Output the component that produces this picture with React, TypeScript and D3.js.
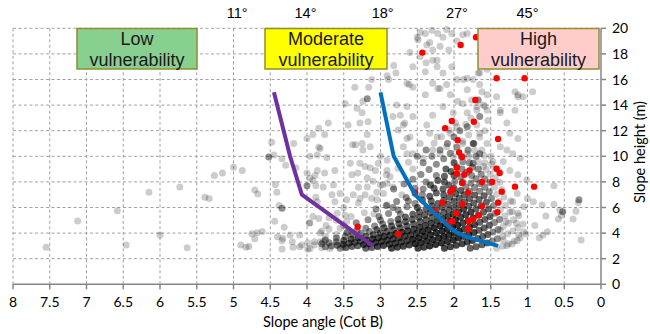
import React from "react";
import * as d3 from "d3";

// ---- axis ticks ----
const xTicks = [8, 7.5, 7, 6.5, 6, 5.5, 5, 4.5, 4, 3.5, 3, 2.5, 2, 1.5, 1, 0.5, 0];
const yTicks = [0, 2, 4, 6, 8, 10, 12, 14, 16, 18, 20];
const degLabels = ["11°", "14°", "18°", "27°", "45°"];
const degCot = [4.95, 4.02, 2.97, 1.96, 1.0];

// ---- vulnerability zones ----
const zoneLine1 = ["Low", "Moderate", "High"];
const zoneLine2 = ["vulnerability", "vulnerability", "vulnerability"];
const zoneFill = ["#88d08f", "#ffff00", "#ffcccc"];

// ---- threshold lines [cot, height] ----
const purpleLine: [number, number][] = [[4.45, 15], [4.23, 10], [4.07, 7], [3.1, 3]];
const blueLine: [number, number][] = [
  [3.0, 15], [2.82, 10], [2.53, 7], [2.05, 4.4], [1.97, 4.05], [1.83, 3.72], [1.6, 3.33], [1.4, 3.0],
];

// ---- failed slopes (red) [cot, height] ----
const failures: [number, number][] = [
  [2.43, 18.1], [1.91, 18.7], [1.7, 19.3], [1.42, 16.1], [1.04, 16.1], [1.71, 14.4],
  [2.03, 12.76], [1.73, 12.7], [2.12, 12.2], [1.4, 11.35], [1.95, 11.25], [1.93, 10.3], [1.89, 9.94],
  [1.96, 9.1], [1.79, 8.9], [1.42, 9.03], [1.38, 8.7], [1.96, 8.64], [1.86, 8.56], [1.89, 7.91],
  [1.62, 7.99], [1.48, 8.0], [1.17, 7.63], [0.91, 7.63], [2.02, 7.42], [2.05, 7.24], [1.81, 7.16],
  [1.35, 7.24], [2.53, 7.16], [2.16, 6.38], [1.89, 6.25], [1.62, 6.09], [1.4, 6.38], [2.26, 5.73],
  [1.97, 5.55], [1.66, 5.39], [1.41, 5.63], [1.74, 5.08], [2.02, 4.92], [2.07, 4.81], [1.8, 4.92],
  [1.81, 4.32], [2.76, 3.93], [3.31, 4.5],
];

// ---- surveyed slopes, scattered [cot, height, count] ----
const slopesScatter: number[][] = [
  [7.55, 2.89, 1], [7.12, 4.95, 1], [6.58, 5.75, 1], [6.46, 3.07, 1], [6.15, 7.2, 1], [6.0, 3.85, 1],
  [5.73, 7.6, 1], [5.63, 2.86, 1], [5.39, 6.8, 1], [5.33, 6.7, 1], [5.26, 8.5, 1], [5.15, 8.7, 1],
  [5.0, 9.15, 1], [4.88, 8.9, 1], [4.71, 7.37, 1], [4.67, 7.05, 1], [4.9, 3.07, 1], [4.83, 2.89, 1],
  [4.79, 2.95, 1], [4.75, 3.95, 1], [4.68, 4.03, 1], [4.61, 4.12, 1], [4.71, 3.55, 1],
  [4.48, 11.1, 1], [4.52, 9.95, 2], [4.45, 10.1, 1], [4.34, 9.8, 1], [4.29, 9.3, 1], [4.18, 11.0, 1],
  [4.15, 9.1, 1], [4.43, 7.8, 1], [4.41, 7.2, 1], [4.38, 6.15, 1], [4.34, 5.95, 2], [4.44, 4.92, 1],
  [4.31, 4.45, 1], [4.4, 3.72, 1], [4.34, 3.4, 1], [4.23, 3.85, 1], [4.19, 2.89, 1], [4.1, 3.85, 1],
  [4.07, 3.07, 1], [3.99, 3.25, 1], [3.99, 2.73, 1], [3.82, 3.33, 1], [3.8, 2.86, 1], [3.97, 4.77, 1],
  [3.8, 4.16, 1], [4.34, 2.75, 1], [4.33, 3.6, 1], [4.2, 3.33, 1], [4.1, 2.94, 1], [3.96, 2.8, 1],
  [3.69, 2.8, 1], [3.78, 3.33, 1], [3.82, 4.0, 1],
  [4.0, 11.4, 1], [3.92, 11.7, 1], [3.84, 12.2, 1], [3.76, 11.7, 1], [3.84, 10.7, 1], [3.86, 10.1, 1],
  [3.71, 12.6, 1], [4.0, 8.7, 1], [3.89, 8.5, 1], [3.96, 8.3, 1], [4.0, 7.7, 2], [3.88, 7.7, 1],
  [3.78, 7.6, 1], [3.76, 8.7, 1], [3.88, 6.8, 1], [3.86, 6.45, 1], [3.92, 5.3, 1], [3.84, 5.15, 1],
  [3.96, 4.8, 1], [3.82, 10.6, 1], [3.96, 10.0, 1], [3.73, 9.9, 1], [3.62, 8.9, 1], [3.86, 8.9, 1],
  [3.92, 8.1, 1], [3.64, 7.75, 1],
  [3.48, 14.1, 1], [3.32, 13.75, 1], [3.25, 13.4, 1], [3.44, 12.45, 1], [3.28, 12.6, 1], [3.17, 12.7, 1],
  [3.18, 11.7, 1], [3.25, 11.0, 1], [3.34, 10.9, 1], [3.38, 10.9, 1], [3.14, 10.75, 1], [3.24, 10.5, 1],
  [3.41, 9.45, 1], [3.28, 9.45, 1], [3.21, 9.2, 1], [3.14, 9.1, 1], [3.39, 8.55, 1], [3.31, 8.7, 1],
  [3.18, 8.3, 1], [3.07, 8.9, 1], [3.0, 10.0, 1], [3.03, 9.45, 1], [2.91, 9.7, 1], [2.91, 8.9, 1],
  [2.87, 8.4, 1], [2.91, 7.9, 1], [3.0, 7.75, 1], [2.83, 7.6, 1], [2.78, 14.0, 1], [2.83, 13.1, 1],
  [2.73, 13.2, 1], [2.67, 12.6, 1], [2.76, 12.05, 1], [2.64, 11.4, 1], [2.69, 10.75, 1], [2.64, 10.2, 1],
  [3.66, 7.0, 1], [3.55, 7.1, 1], [3.62, 6.45, 1], [3.46, 6.6, 1], [3.37, 7.0, 1], [3.28, 6.7, 1],
  [3.18, 7.6, 1], [3.21, 7.0, 1], [3.05, 7.2, 1], [2.97, 7.75, 1], [3.05, 6.6, 1], [2.91, 6.2, 1],
  [3.59, 5.55, 1], [3.48, 5.4, 1], [3.46, 4.9, 1], [3.55, 4.37, 1], [3.46, 4.0, 1], [3.39, 3.85, 1],
  [3.32, 3.46, 1], [3.4, 3.33, 1], [3.51, 2.94, 1], [3.59, 3.05, 1], [3.74, 4.6, 1], [3.7, 5.2, 1],
  [3.35, 15.4, 1], [3.16, 15.4, 1], [3.18, 14.5, 2], [3.24, 14.3, 1], [3.12, 16.0, 1], [2.91, 16.3, 1],
  [2.89, 16.0, 1], [2.79, 16.5, 1], [2.82, 17.1, 1], [2.61, 15.6, 1], [2.56, 15.4, 1], [2.39, 14.8, 1],
  [2.29, 15.7, 1], [2.22, 15.3, 1], [2.15, 16.5, 1], [2.03, 17.0, 1], [1.96, 16.0, 1], [1.87, 16.0, 1],
  [1.74, 16.0, 1], [1.67, 16.5, 1], [1.6, 17.05, 1], [1.55, 17.5, 1], [1.82, 15.2, 1], [1.76, 14.4, 1],
  [1.69, 13.9, 1], [1.6, 14.0, 1], [1.55, 13.6, 1], [1.37, 13.6, 1], [1.13, 14.65, 1], [1.06, 14.65, 1],
  [0.93, 15.05, 1], [1.88, 19.5, 1], [1.96, 19.0, 1], [2.6, 18.1, 1], [2.46, 19.7, 1], [2.5, 19.3, 1],
  [2.33, 18.9, 1], [2.22, 19.6, 1], [2.1, 19.9, 1], [2.07, 18.3, 1], [2.23, 17.5, 1], [2.38, 17.3, 1],
  [2.46, 17.8, 1], [2.39, 19.6, 1], [2.3, 19.85, 1], [2.49, 19.1, 1], [2.37, 18.7, 1], [2.29, 18.3, 1],
  [2.19, 18.6, 1], [2.15, 19.3, 1], [2.03, 19.6, 1], [1.82, 19.6, 1], [2.56, 17.0, 1], [2.39, 16.6, 1],
  [2.29, 17.5, 1], [2.23, 17.0, 1], [1.82, 16.1, 1], [1.65, 16.5, 1], [1.6, 17.3, 1], [1.55, 16.8, 1],
  [2.64, 15.7, 1], [2.19, 15.3, 1], [2.1, 15.6, 1], [2.05, 14.8, 1], [1.95, 14.3, 1], [1.65, 15.6, 1],
  [1.62, 15.05, 1], [1.67, 14.4, 2], [1.55, 14.8, 1], [1.42, 14.65, 1], [1.17, 15.05, 1], [1.13, 14.8, 1],
  [2.64, 13.9, 1], [2.56, 13.1, 1], [2.69, 12.45, 1], [2.6, 11.5, 1], [2.56, 10.2, 1], [2.46, 11.0, 1],
  [2.37, 12.45, 1], [2.29, 13.2, 1], [2.33, 11.8, 1], [2.23, 11.5, 1], [2.29, 10.5, 1], [2.19, 10.2, 1],
  [2.42, 9.85, 1], [2.15, 13.9, 1], [2.01, 13.4, 1], [1.88, 14.1, 1], [1.82, 13.4, 1], [1.69, 13.6, 1],
  [1.65, 13.1, 2], [1.69, 12.45, 1], [1.58, 13.9, 1], [1.54, 12.8, 1], [1.37, 13.4, 1], [1.28, 12.6, 1],
  [1.17, 13.6, 1], [1.24, 11.8, 1], [1.13, 11.4, 1], [1.37, 10.75, 1], [1.28, 10.5, 1], [1.2, 10.2, 1],
  [1.1, 9.85, 1], [1.33, 9.6, 1], [1.24, 8.9, 1], [1.13, 8.55, 1], [1.01, 8.15, 1], [1.47, 9.6, 1],
  [1.55, 11.0, 1], [1.65, 11.8, 1], [1.74, 11.0, 2], [1.65, 10.2, 2], [1.74, 9.45, 2], [1.6, 9.2, 1],
  [2.05, 11.8, 1], [1.96, 12.3, 1], [1.82, 12.3, 2], [1.88, 11.0, 1], [1.82, 10.2, 1], [2.1, 10.75, 1],
  [2.01, 9.97, 1],
  [0.64, 7.7, 1], [0.3, 6.6, 2], [0.31, 6.4, 1], [0.34, 5.7, 1], [0.38, 5.1, 1], [0.52, 5.67, 2],
  [0.54, 5.4, 1], [0.58, 5.1, 1], [0.64, 6.25, 1], [0.75, 5.34, 1], [0.8, 6.2, 1], [0.79, 3.85, 1],
  [0.84, 3.64, 1], [0.73, 4.1, 1], [0.27, 3.46, 1], [0.92, 6.45, 1], [1.0, 6.7, 1], [1.05, 6.06, 1],
  [1.13, 5.55, 1], [1.15, 4.77, 1], [1.12, 3.85, 1], [1.05, 4.1, 1], [1.14, 3.4, 1], [1.28, 3.02, 1],
  [1.21, 3.15, 1], [1.33, 3.46, 1], [1.37, 4.24, 1], [1.29, 4.9, 1], [1.21, 5.67, 1], [1.2, 6.45, 1],
  [1.14, 7.1, 1], [0.56, 5.8, 1], [0.9, 4.6, 1],
];

// ---- surveyed slopes, dense bands [cot, height, count] ----
const slopesDense: number[][] = [
  [1.42, 2.82, 1], [1.34, 2.98, 1], [1.26, 3.17, 1], [1.18, 3.39, 1], [1.1, 3.64, 1], [1.02, 3.92, 1],
  [1.78, 2.81, 3], [1.7, 2.94, 3], [1.62, 3.09, 3], [1.55, 3.23, 3], [1.48, 3.38, 2], [1.41, 3.55, 2],
  [1.34, 3.73, 1], [1.27, 3.94, 1], [1.2, 4.17, 1], [1.13, 4.42, 1], [1.06, 4.72, 1],
  [2.13, 2.82, 4], [2.05, 2.93, 4], [1.97, 3.05, 4], [1.89, 3.17, 4], [1.82, 3.3, 4], [1.75, 3.43, 4],
  [1.68, 3.57, 3], [1.61, 3.73, 3], [1.54, 3.9, 3], [1.47, 4.08, 2], [1.4, 4.29, 2], [1.33, 4.51, 1],
  [1.26, 4.76, 1], [1.19, 5.04, 1], [1.12, 5.36, 1],
  [2.49, 2.81, 4], [2.41, 2.9, 4], [2.33, 3.0, 5], [2.25, 3.11, 5], [2.17, 3.23, 5], [2.09, 3.35, 5],
  [2.01, 3.48, 5], [1.94, 3.61, 5], [1.87, 3.74, 4], [1.8, 3.89, 4], [1.73, 4.05, 4], [1.66, 4.22, 3],
  [1.59, 4.4, 3], [1.52, 4.61, 3], [1.45, 4.83, 2], [1.38, 5.07, 2], [1.31, 5.34, 1], [1.24, 5.65, 1],
  [2.85, 2.81, 4], [2.77, 2.89, 4], [2.69, 2.97, 4], [2.61, 3.07, 4], [2.53, 3.16, 5], [2.45, 3.27, 5],
  [2.37, 3.38, 5], [2.29, 3.49, 5], [2.21, 3.62, 5], [2.14, 3.74, 5], [2.07, 3.86, 5], [2.0, 4.0, 5],
  [1.93, 4.15, 5], [1.86, 4.3, 4], [1.79, 4.47, 4], [1.72, 4.65, 4], [1.65, 4.85, 3], [1.58, 5.06, 3],
  [1.51, 5.3, 3], [1.44, 5.56, 2], [1.37, 5.84, 1], [1.3, 6.15, 1], [1.23, 6.5, 1],
  [3.2, 2.81, 3], [3.12, 2.88, 3], [3.04, 2.96, 4], [2.96, 3.04, 4], [2.88, 3.13, 4], [2.8, 3.21, 4],
  [2.72, 3.31, 4], [2.64, 3.41, 4], [2.56, 3.52, 5], [2.48, 3.63, 5], [2.4, 3.75, 5], [2.32, 3.88, 5],
  [2.24, 4.02, 5], [2.16, 4.17, 5], [2.09, 4.31, 5], [2.02, 4.46, 5], [1.95, 4.62, 5], [1.88, 4.79, 4],
  [1.81, 4.97, 4], [1.74, 5.17, 4], [1.67, 5.39, 3], [1.6, 5.63, 3], [1.53, 5.88, 3], [1.46, 6.16, 2],
  [1.39, 6.47, 1], [1.32, 6.82, 1],
  [3.55, 2.82, 2], [3.47, 2.88, 3], [3.39, 2.95, 3], [3.31, 3.02, 3], [3.23, 3.1, 4], [3.15, 3.17, 4],
  [3.07, 3.26, 4], [2.99, 3.34, 4], [2.91, 3.44, 4], [2.83, 3.53, 4], [2.75, 3.64, 4], [2.67, 3.75, 4],
  [2.59, 3.86, 4], [2.51, 3.98, 4], [2.43, 4.12, 5], [2.35, 4.26, 5], [2.27, 4.41, 5], [2.19, 4.57, 5],
  [2.12, 4.72, 5], [2.05, 4.88, 5], [1.98, 5.05, 5], [1.91, 5.24, 4], [1.84, 5.43, 4], [1.77, 5.65, 4],
  [1.7, 5.88, 3], [1.63, 6.13, 3], [1.56, 6.41, 3], [1.49, 6.71, 2], [1.42, 7.04, 1], [1.35, 7.41, 1],
  [3.75, 2.93, 2], [3.67, 3.0, 2], [3.59, 3.06, 2], [3.51, 3.13, 3], [3.43, 3.21, 3], [3.35, 3.28, 3],
  [3.27, 3.36, 3], [3.19, 3.45, 3], [3.11, 3.54, 4], [3.03, 3.63, 4], [2.95, 3.73, 4], [2.87, 3.83, 4],
  [2.79, 3.94, 4], [2.71, 4.06, 4], [2.63, 4.18, 4], [2.55, 4.31, 4], [2.47, 4.45, 4], [2.39, 4.6, 4],
  [2.31, 4.76, 4], [2.23, 4.93, 4], [2.15, 5.12, 4], [2.08, 5.29, 4], [2.01, 5.47, 4], [1.94, 5.67, 4],
  [1.87, 5.88, 4], [1.8, 6.11, 3], [1.73, 6.36, 3], [1.66, 6.63, 3], [1.59, 6.92, 3], [1.52, 7.24, 2],
  [1.45, 7.59, 1], [1.38, 7.97, 1],
  [3.9, 3.08, 1], [3.8, 3.16, 2], [3.7, 3.24, 2], [3.6, 3.33, 2], [3.5, 3.43, 3], [3.4, 3.53, 3],
  [3.3, 3.64, 3], [3.2, 3.75, 3], [3.1, 3.87, 3], [3.0, 4.0, 3], [2.91, 4.12, 3], [2.82, 4.26, 3],
  [2.73, 4.4, 3], [2.64, 4.55, 3], [2.55, 4.71, 3], [2.46, 4.88, 3], [2.38, 5.04, 3], [2.3, 5.22, 3],
  [2.22, 5.41, 3], [2.14, 5.61, 3], [2.07, 5.8, 3], [2.0, 6.0, 3], [1.93, 6.22, 3], [1.86, 6.45, 3],
  [1.79, 6.7, 3], [1.72, 6.98, 3], [1.65, 7.27, 2], [1.58, 7.59, 2], [1.51, 7.95, 2], [1.44, 8.33, 1],
  [1.37, 8.76, 1],
  [3.9, 3.33, 1], [3.75, 3.47, 2], [3.6, 3.61, 2], [3.48, 3.74, 2], [3.37, 3.86, 2], [3.26, 3.99, 2],
  [3.15, 4.13, 2], [3.05, 4.26, 3], [2.95, 4.41, 3], [2.85, 4.56, 3], [2.75, 4.73, 3], [2.66, 4.89, 3],
  [2.57, 5.06, 3], [2.48, 5.24, 3], [2.4, 5.42, 3], [2.32, 5.6, 3], [2.24, 5.8, 3], [2.16, 6.02, 3],
  [2.08, 6.25, 3], [2.0, 6.5, 3], [1.93, 6.74, 3], [1.86, 6.99, 3], [1.79, 7.26, 2], [1.72, 7.56, 2],
  [1.65, 7.88, 2], [1.58, 8.23, 2], [1.51, 8.61, 1], [1.44, 9.03, 1],
  [3.75, 3.73, 1], [3.6, 3.89, 1], [3.45, 4.06, 2], [3.32, 4.22, 2], [3.2, 4.38, 2], [3.08, 4.55, 2],
  [2.97, 4.71, 2], [2.86, 4.9, 2], [2.76, 5.07, 3], [2.66, 5.26, 3], [2.56, 5.47, 3], [2.47, 5.67, 3],
  [2.38, 5.88, 3], [2.3, 6.09, 3], [2.22, 6.31, 3], [2.14, 6.54, 3], [2.06, 6.8, 3], [1.98, 7.07, 3],
  [1.91, 7.33, 3], [1.84, 7.61, 2], [1.77, 7.91, 2], [1.7, 8.24, 2], [1.63, 8.59, 2], [1.56, 8.97, 1],
  [1.49, 9.4, 1],
  [3.0, 5.0, 2], [2.73, 5.5, 2], [2.5, 6.0, 3], [2.31, 6.5, 3], [2.14, 7.0, 3], [2.0, 7.5, 3],
  [1.88, 8.0, 2], [1.76, 8.5, 2], [1.67, 9.0, 2], [1.58, 9.5, 1], [1.5, 10.0, 1],
  [3.7, 4.32, 1], [3.5, 4.57, 1], [3.33, 4.8, 2], [3.17, 5.05, 2], [3.02, 5.3, 2], [2.89, 5.54, 2],
  [2.76, 5.8, 2], [2.64, 6.06, 2], [2.53, 6.32, 2], [2.43, 6.58, 3], [2.33, 6.87, 3], [2.24, 7.14, 3],
  [2.15, 7.44, 3], [2.07, 7.73, 3], [1.99, 8.04, 2], [1.91, 8.38, 2], [1.83, 8.74, 2], [1.75, 9.14, 2],
  [1.67, 9.58, 1], [1.59, 10.06, 1],
  [3.09, 5.5, 1], [2.83, 6.0, 2], [2.62, 6.5, 2], [2.43, 7.0, 2], [2.27, 7.5, 3], [2.13, 8.0, 3],
  [2.0, 8.5, 3], [1.89, 9.0, 2], [1.79, 9.5, 2], [1.7, 10.0, 2], [1.62, 10.5, 1],
  [3.6, 5.0, 1], [3.4, 5.29, 1], [3.22, 5.59, 1], [3.06, 5.88, 2], [2.92, 6.16, 2], [2.78, 6.47, 2],
  [2.65, 6.79, 2], [2.53, 7.11, 2], [2.42, 7.44, 2], [2.32, 7.76, 3], [2.22, 8.11, 3], [2.13, 8.45, 3],
  [2.04, 8.82, 3], [1.96, 9.18, 2], [1.88, 9.57, 2], [1.8, 10.0, 1], [1.72, 10.47, 1],
  [2.71, 7.0, 1], [2.53, 7.5, 2], [2.38, 8.0, 2], [2.24, 8.5, 2], [2.11, 9.0, 3], [2.0, 9.5, 3],
  [1.9, 10.0, 2], [1.81, 10.5, 2], [1.73, 11.0, 2], [1.65, 11.5, 1], [1.58, 12.0, 1],
  [3.5, 6.0, 1], [3.3, 6.36, 1], [3.12, 6.73, 1], [2.96, 7.09, 1], [2.82, 7.45, 2], [2.68, 7.84, 2],
  [2.56, 8.2, 2], [2.45, 8.57, 2], [2.34, 8.97, 2], [2.24, 9.38, 2], [2.14, 9.81, 2], [2.05, 10.24, 2],
  [1.96, 10.71, 2], [1.88, 11.17, 1], [1.8, 11.67, 1],
  [2.56, 9.0, 1], [2.42, 9.5, 2], [2.3, 10.0, 2], [2.19, 10.5, 2], [2.09, 11.0, 2], [2.0, 11.5, 2],
  [1.92, 12.0, 2], [1.84, 12.5, 1], [1.77, 13.0, 1],
  [3.3, 7.58, 1], [3.1, 8.06, 1], [2.92, 8.56, 1], [2.76, 9.06, 1], [2.62, 9.54, 1], [2.5, 10.0, 2],
  [2.38, 10.5, 2], [2.27, 11.01, 1], [2.17, 11.52, 1], [2.07, 12.08, 1], [1.98, 12.63, 1],
];

const W = 650;
const H = 334;
const FONT = "Lato, 'Liberation Sans', Arial, sans-serif";
const ARIAL = "'Liberation Sans', Arial, sans-serif";

export default function App() {
  const x = d3.scaleLinear().domain([8, 0]).range([13, 601]);
  const y = d3.scaleLinear().domain([0, 20]).range([284.3, 28.3]);
  const line = d3
    .line<[number, number]>()
    .x((d) => x(d[0]))
    .y((d) => y(d[1]));
  // opacity of a spot holding n overlapping records
  const op = (n: number) => 1 - Math.pow(0.8, 1.6 * n - 0.6);
  const gray = [...slopesScatter, ...slopesDense];

  const boxes = [
    { x0: 77, x1: 197 },
    { x0: 265, x1: 387 },
    { x0: 478, x1: 599 },
  ];

  return (
    <svg
      width={W}
      height={H}
      style={{ position: "absolute", left: 0, top: 0, background: "#fff" }}
    >
      {/* grid */}
      <g stroke="#a0a0a0" strokeWidth={1} strokeDasharray="3,2.5">
        {xTicks
          .filter((t) => t > 0)
          .map((t) => (
            <line key={"gx" + t} x1={x(t)} x2={x(t)} y1={y(20)} y2={y(0)} />
          ))}
        {yTicks
          .filter((t) => t > 0)
          .map((t) => (
            <line key={"gy" + t} x1={x(8)} x2={x(0)} y1={y(t)} y2={y(t)} />
          ))}
      </g>

      {/* surveyed slopes */}
      <g>
        {gray.map((d, i) => (
          <circle key={"g" + i} cx={x(d[0])} cy={y(d[1])} r={3.5} fill="#000" fillOpacity={op(d[2] || 1)} />
        ))}
      </g>
      {/* failures */}
      <g>
        {failures.map((d, i) => (
          <circle key={"r" + i} cx={x(d[0])} cy={y(d[1])} r={3.2} fill="#ff0000" />
        ))}
      </g>

      {/* threshold lines */}
      <path d={line(purpleLine) || ""} fill="none" stroke="#7030a0" strokeWidth={4} strokeLinejoin="round" />
      <path d={line(blueLine) || ""} fill="none" stroke="#0070c0" strokeWidth={4} strokeLinejoin="round" />

      {/* axes */}
      <g stroke="#868686" strokeWidth={1.5}>
        <line x1={x(8)} x2={x(0)} y1={y(0)} y2={y(0)} />
        <line x1={x(0)} x2={x(0)} y1={y(0)} y2={y(20)} />
        {xTicks.map((t) => (
          <line key={"tx" + t} x1={x(t)} x2={x(t)} y1={y(0)} y2={y(0) + 5} />
        ))}
        {yTicks.map((t) => (
          <line key={"ty" + t} x1={x(0)} x2={x(0) + 5} y1={y(t)} y2={y(t)} />
        ))}
      </g>
      <g fontFamily={FONT} fontSize={14} fill="#000">
        {xTicks.map((t) => (
          <text key={"lx" + t} x={x(t)} y={306.5} textAnchor="middle">
            {String(t)}
          </text>
        ))}
        {yTicks.map((t) => (
          <text key={"ly" + t} x={612} y={y(t) + 5} textAnchor="start">
            {String(t)}
          </text>
        ))}
        <text x={323} y={327} textAnchor="middle" fontSize={14.5}>
          Slope angle (Cot B)
        </text>
        <text transform={`translate(645,152) rotate(-90)`} textAnchor="middle" fontSize={14.5}>
          Slope height (m)
        </text>
      </g>

      {/* degree labels */}
      <g fontFamily={ARIAL} fontSize={14.5} fill="#000">
        {degLabels.map((s, i) => (
          <text key={"d" + i} x={x(degCot[i])} y={18} textAnchor="middle">
            {s}
          </text>
        ))}
      </g>

      {/* vulnerability boxes */}
      {boxes.map((b, i) => (
        <g key={"b" + i}>
          <rect
            x={b.x0}
            y={28.5}
            width={b.x1 - b.x0}
            height={40.5}
            fill={zoneFill[i]}
            stroke="#8f8f2f"
            strokeWidth={1.5}
          />
          <text
            x={(b.x0 + b.x1) / 2}
            y={45}
            textAnchor="middle"
            fontFamily={ARIAL}
            fontSize={18}
            fill="#1a1a1a"
          >
            {zoneLine1[i]}
          </text>
          <text
            x={(b.x0 + b.x1) / 2}
            y={66}
            textAnchor="middle"
            fontFamily={ARIAL}
            fontSize={18}
            fill="#1a1a1a"
          >
            {zoneLine2[i]}
          </text>
        </g>
      ))}
    </svg>
  );
}
